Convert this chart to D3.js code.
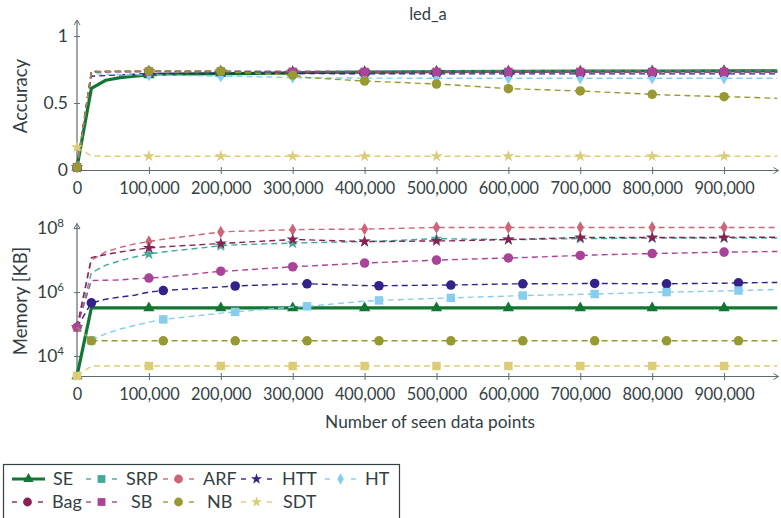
<!DOCTYPE html>
<html>
<head>
<meta charset="utf-8">
<script src="https://cdn.jsdelivr.net/npm/d3@7"></script>
<style>
  body { margin: 0; background: #fff; }
  text { font-family: Lato, "Open Sans", sans-serif; fill: #333f44; }
</style>
</head>
<body>
<svg id="chart" width="781" height="518"></svg>
<script>
// seen data points (x) shared by every series
const seen = [0, 20000, 40000, 60000, 80000, 100000, 120000, 200000, 220000, 300000, 320000,
  400000, 420000, 500000, 520000, 600000, 620000, 700000, 720000, 800000, 820000,
  900000, 920000, 974000];

const names = ["SE", "SRP", "ARF", "HTT", "HT", "Bag", "SB", "NB", "SDT"];

// accuracy
const accSE  = [0.02, 0.61, 0.67, 0.69, 0.70, 0.71, 0.715, 0.72, 0.72, 0.725, 0.728, 0.73, 0.73, 0.735, 0.735, 0.737, 0.737, 0.738, 0.738, 0.739, 0.739, 0.74, 0.74, 0.74];
const accSRP = [0.02, 0.73, 0.735, 0.735, 0.736, 0.738, 0.738, 0.738, 0.738, 0.737, 0.737, 0.737, 0.737, 0.737, 0.737, 0.737, 0.737, 0.737, 0.737, 0.737, 0.737, 0.737, 0.737, 0.737];
const accARF = [0.02, 0.735, 0.736, 0.737, 0.737, 0.738, 0.738, 0.737, 0.737, 0.735, 0.735, 0.735, 0.735, 0.735, 0.735, 0.735, 0.735, 0.735, 0.735, 0.735, 0.735, 0.735, 0.735, 0.735];
const accHTT = [0.02, 0.70, 0.705, 0.71, 0.715, 0.72, 0.72, 0.72, 0.72, 0.72, 0.72, 0.718, 0.718, 0.718, 0.718, 0.718, 0.718, 0.718, 0.718, 0.718, 0.718, 0.718, 0.718, 0.718];
const accHT  = [0.02, 0.72, 0.715, 0.712, 0.71, 0.71, 0.708, 0.70, 0.70, 0.69, 0.688, 0.686, 0.686, 0.685, 0.685, 0.685, 0.685, 0.685, 0.685, 0.685, 0.685, 0.685, 0.685, 0.685];
const accBag = [0.02, 0.735, 0.735, 0.735, 0.735, 0.735, 0.735, 0.734, 0.734, 0.733, 0.733, 0.732, 0.732, 0.732, 0.732, 0.732, 0.732, 0.732, 0.732, 0.732, 0.732, 0.732, 0.732, 0.732];
const accSB  = [0.02, 0.73, 0.732, 0.733, 0.734, 0.735, 0.735, 0.735, 0.735, 0.733, 0.733, 0.732, 0.732, 0.732, 0.732, 0.732, 0.732, 0.732, 0.732, 0.732, 0.732, 0.732, 0.732, 0.732];
const accNB  = [0.02, 0.73, 0.735, 0.737, 0.738, 0.739, 0.739, 0.739, 0.73, 0.709, 0.69, 0.664, 0.66, 0.642, 0.636, 0.607, 0.604, 0.59, 0.585, 0.565, 0.56, 0.547, 0.545, 0.535];
const accSDT = [0.17, 0.105, 0.103, 0.103, 0.103, 0.103, 0.103, 0.103, 0.103, 0.103, 0.103, 0.103, 0.103, 0.103, 0.103, 0.103, 0.103, 0.103, 0.103, 0.103, 0.103, 0.103, 0.103, 0.103];

// memory [KB]
const memSE  = [2.4e3, 3.2e5, 3.2e5, 3.2e5, 3.2e5, 3.2e5, 3.2e5, 3.2e5, 3.2e5, 3.2e5, 3.2e5, 3.2e5, 3.2e5, 3.2e5, 3.2e5, 3.2e5, 3.2e5, 3.2e5, 3.2e5, 3.2e5, 3.2e5, 3.2e5, 3.2e5, 3.2e5];
const memSRP = [8.0e4, 4.0e6, 7.0e6, 9.5e6, 1.25e7, 1.55e7, 1.8e7, 2.8e7, 3.0e7, 3.4e7, 3.5e7, 3.8e7, 3.9e7, 4.7e7, 4.6e7, 4.4e7, 4.4e7, 4.7e7, 4.7e7, 4.9e7, 4.9e7, 4.9e7, 4.9e7, 4.9e7];
const memARF = [8.0e4, 1.0e7, 1.8e7, 2.5e7, 3.2e7, 3.8e7, 4.5e7, 7.6e7, 7.9e7, 8.9e7, 9.1e7, 9.3e7, 9.5e7, 1.05e8, 1.05e8, 1.05e8, 1.05e8, 1.05e8, 1.05e8, 1.05e8, 1.05e8, 1.05e8, 1.05e8, 1.05e8];
const memHTT = [8.0e4, 4.6e5, 6.0e5, 7.0e5, 8.0e5, 1.0e6, 1.12e6, 1.45e6, 1.55e6, 1.8e6, 1.82e6, 1.6e6, 1.58e6, 1.65e6, 1.66e6, 1.8e6, 1.82e6, 1.85e6, 1.86e6, 1.82e6, 1.82e6, 1.9e6, 1.95e6, 2.0e6];
const memHT  = [8.0e4, 3.1e4, 5.0e4, 7.0e4, 9.0e4, 1.15e5, 1.4e5, 2.2e5, 2.4e5, 3.4e5, 3.6e5, 5.2e5, 5.5e5, 6.4e5, 6.6e5, 7.5e5, 7.8e5, 8.5e5, 8.7e5, 9.8e5, 1.0e6, 1.08e6, 1.12e6, 1.2e6];
const memBag = [8.0e4, 1.2e7, 1.5e7, 1.8e7, 2.1e7, 2.4e7, 2.6e7, 3.3e7, 3.5e7, 4.4e7, 4.3e7, 3.8e7, 3.8e7, 4.0e7, 4.0e7, 4.4e7, 4.5e7, 5.1e7, 5.1e7, 5.1e7, 5.1e7, 5.1e7, 5.2e7, 5.2e7];
const memSB  = [8.0e4, 2.3e6, 2.35e6, 2.4e6, 2.6e6, 2.75e6, 2.9e6, 4.5e6, 4.7e6, 6.2e6, 6.5e6, 8.1e6, 8.4e6, 1.0e7, 1.03e7, 1.17e7, 1.2e7, 1.4e7, 1.45e7, 1.6e7, 1.63e7, 1.78e7, 1.8e7, 1.86e7];
const memNB  = [8.0e4, 3.0e4, 3.0e4, 3.0e4, 3.0e4, 3.0e4, 3.0e4, 3.0e4, 3.0e4, 3.0e4, 3.0e4, 3.0e4, 3.0e4, 3.0e4, 3.0e4, 3.0e4, 3.0e4, 3.0e4, 3.0e4, 3.0e4, 3.0e4, 3.0e4, 3.0e4, 3.0e4];
const memSDT = [2.4e3, 4.9e3, 4.9e3, 4.9e3, 4.9e3, 4.9e3, 4.9e3, 4.9e3, 4.9e3, 4.9e3, 4.9e3, 4.9e3, 4.9e3, 4.9e3, 4.9e3, 4.9e3, 4.9e3, 4.9e3, 4.9e3, 4.9e3, 4.9e3, 4.9e3, 4.9e3, 4.9e3];

const xTicks = [0, 100000, 200000, 300000, 400000, 500000, 600000, 700000, 800000, 900000];
const accTicks = [0, 0.5, 1];
const memTicks = [1e4, 1e6, 1e8];

const accData = [accSE, accSRP, accARF, accHTT, accHT, accBag, accSB, accNB, accSDT];
const memData = [memSE, memSRP, memARF, memHTT, memHT, memBag, memSB, memNB, memSDT];

// styles (Paul Tol muted)
const colors = ["#117733", "#44AA99", "#CC6677", "#332288", "#88CCEE", "#882255", "#AA4499", "#999933", "#DDCC77"];
const accMarks = ["triangle", "star", "diamond", "circle", "diamond", "star", "square", "circle", "star"];
const memMarks = ["triangle", "star", "diamond", "circle", "square", "star", "circle", "circle", "square"];
const memMarkOffset = [0, 0, 0, 20000, 20000, 0, 0, 20000, 0];
const legMarks = ["triangle", "square", "circle", "star", "diamond", "circle", "square", "circle", "star"];

const symbols = {
  triangle: [d3.symbolTriangle, 55],
  star: [d3.symbolStar, 45],
  diamond: [d3.symbolDiamond, 45],
  circle: [d3.symbolCircle, 72],
  square: [d3.symbolSquare, 72]
};

function sym(kind, scale = 1) {
  return d3.symbol().type(symbols[kind][0]).size(symbols[kind][1] * scale)();
}

const svg = d3.select("#chart");
const axisColor = "#5f6b70";

svg.append("defs").append("marker")
  .attr("id", "arrow")
  .attr("viewBox", "-1 -4 8 8")
  .attr("refX", 5).attr("refY", 0)
  .attr("markerWidth", 8).attr("markerHeight", 8)
  .attr("markerUnits", "userSpaceOnUse")
  .attr("orient", "auto")
  .append("path")
  .attr("d", "M0,-3L5,0L0,3")
  .attr("fill", "none")
  .attr("stroke", axisColor)
  .attr("stroke-width", 1);

const x = d3.scaleLinear().domain([0, 975000]).range([77, 778]);
const yAcc = d3.scaleLinear().domain([0, 1.09]).range([170, 24]);
const yMem = d3.scaleLog().domain([2385, 1.045e8]).range([376, 227.5]);

function xAxis(yPos) {
  const g = svg.append("g")
    .attr("transform", `translate(0,${yPos})`)
    .call(d3.axisBottom(x).tickValues(xTicks).tickSize(4).tickSizeOuter(0).tickPadding(8)
      .tickFormat(d3.format(",")));
  g.select(".domain").attr("stroke", axisColor).attr("stroke-width", 1.2).attr("marker-end", "url(#arrow)");
  g.selectAll(".tick line").attr("stroke", axisColor).attr("y1", -3)
    .filter(d => d === 0).remove();
  g.selectAll(".tick text").attr("font-size", 16.3).attr("fill", "#333f44");
  return g;
}

function yAxis(scale, ticks, pad, fmt) {
  const g = svg.append("g")
    .attr("transform", "translate(77,0)")
    .call(d3.axisLeft(scale).tickValues(ticks).tickSize(3).tickSizeOuter(0).tickPadding(pad)
      .tickFormat(fmt));
  g.select(".domain").attr("stroke", axisColor).attr("stroke-width", 1.2).attr("marker-end", "url(#arrow)")
    .attr("d", `M0,${scale.range()[0]}V${scale.range()[1] - 4}`);
  g.selectAll(".tick line").attr("stroke", axisColor).attr("x1", 3);
  g.selectAll(".tick text").attr("font-size", 17.5).attr("fill", "#333f44");
  return g;
}

function drawSeries(y, data, marks, offsets) {
  data.forEach((vals, i) => {
    const pts = seen.map((s, j) => [s, vals[j]]);
    const line = d3.line().x(d => x(d[0])).y(d => y(d[1]));
    const g = svg.append("g");
    g.append("path")
      .attr("d", line(pts))
      .attr("fill", "none")
      .attr("stroke", colors[i])
      .attr("stroke-width", i === 0 ? 3.2 : 1.4)
      .attr("stroke-dasharray", i === 0 ? null : "6,4")
      .attr("stroke-linejoin", "round");
    const off = offsets ? offsets[i] : 0;
    g.selectAll("path.mk")
      .data(pts.filter(d => d[0] % 100000 === off))
      .join("path")
      .attr("class", "mk")
      .attr("d", sym(marks[i]))
      .attr("transform", d => `translate(${x(d[0])},${y(d[1])})`)
      .attr("fill", colors[i]);
  });
}

// ---- top panel: accuracy ----
xAxis(170);
yAxis(yAcc, accTicks, 6, d => d === 0.5 ? "0.5" : String(d))
  .selectAll(".tick line").filter(d => d === 0).remove();
drawSeries(yAcc, accData, accMarks, null);

svg.append("text")
  .attr("x", 428).attr("y", 20)
  .attr("text-anchor", "middle")
  .attr("font-size", 16.5)
  .text("led_a");

svg.append("text")
  .attr("transform", "translate(27,96) rotate(-90)")
  .attr("text-anchor", "middle")
  .attr("font-size", 18.5)
  .text("Accuracy");

// ---- bottom panel: memory ----
xAxis(376);
const ym = yAxis(yMem, memTicks, 10, () => "");
ym.selectAll(".tick text").each(function (d) {
  const t = d3.select(this);
  t.append("tspan").text("10");
  t.append("tspan").attr("dy", -7).attr("font-size", 11.5).text(Math.round(Math.log10(d)));
});
drawSeries(yMem, memData, memMarks, memMarkOffset);

svg.append("text")
  .attr("transform", "translate(27,301) rotate(-90)")
  .attr("text-anchor", "middle")
  .attr("font-size", 18.5)
  .text("Memory [KB]");

svg.append("text")
  .attr("x", 430).attr("y", 428)
  .attr("text-anchor", "middle")
  .attr("font-size", 17.3)
  .text("Number of seen data points");

// ---- legend ----
const leg = svg.append("g");
leg.append("rect")
  .attr("x", 3.5).attr("y", 464.5)
  .attr("width", 396).attr("height", 70)
  .attr("fill", "#fff")
  .attr("stroke", "#333f44")
  .attr("stroke-width", 1.2);

const legLineX = [12, 86, 163, 241, 325];
const legTextX = [53, 126, 203, 282, 365, 52, 131, 207, 283];
names.forEach((n, i) => {
  const row = i < 5 ? 0 : 1;
  const col = i < 5 ? i : i - 5;
  const cy = row === 0 ? 479 : 502;
  const x0 = legLineX[col], x1 = x0 + 31;
  const g = leg.append("g");
  if (i === 0) {
    g.append("line").attr("x1", x0).attr("x2", x0 + 33).attr("y1", cy).attr("y2", cy)
      .attr("stroke", colors[i]).attr("stroke-width", 3.2);
  } else {
    [[x0, x0 + 5], [x1 - 5, x1]].forEach(([a, b]) => {
      g.append("line").attr("x1", a).attr("x2", b).attr("y1", cy).attr("y2", cy)
        .attr("stroke", colors[i]).attr("stroke-width", 1.4);
    });
  }
  g.append("path")
    .attr("d", sym(legMarks[i], 0.85))
    .attr("transform", `translate(${i === 0 ? x0 + 16.5 : (x0 + x1) / 2},${cy})`)
    .attr("fill", colors[i]);
  g.append("text")
    .attr("x", legTextX[i]).attr("y", cy)
    .attr("dy", "0.36em")
    .attr("font-size", 18)
    .text(n);
});
</script>
</body>
</html>
